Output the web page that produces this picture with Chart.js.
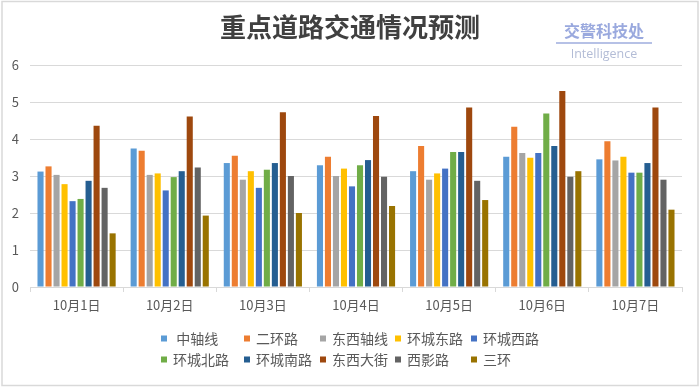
<!DOCTYPE html>
<html>
<head>
<meta charset="utf-8">
<script src="https://cdn.jsdelivr.net/npm/chart.js@4/dist/chart.umd.min.js"></script>
<style>
  html, body { margin: 0; padding: 0; background: #ffffff; }
  #wrap { position: relative; width: 700px; height: 387px; }
  canvas { display: block; }
  .wm1 { position: absolute; left: 556px; top: 19px; width: 96px; text-align: center;
         font-family: "Noto Sans CJK SC", sans-serif; font-size: 16px; font-weight: bold;
         color: #9aa9de; line-height: 22px; }
  .wmline { position: absolute; left: 556px; top: 42px; width: 96px; height: 2px; background: #b6c1e6; }
  .wm2 { position: absolute; left: 556px; top: 46px; width: 96px; text-align: center;
         font-family: "Open Sans", sans-serif; font-size: 12.5px; color: #b3bcd6; line-height: 16px; }
</style>
</head>
<body>
<div id="wrap">
  <canvas id="c" width="700" height="387"></canvas>
  <div class="wm1">交警科技处</div>
  <div class="wmline"></div>
  <div class="wm2">Intelligence</div>
</div>
<script>
const categories = ["10月1日", "10月2日", "10月3日", "10月4日", "10月5日", "10月6日", "10月7日"];
const seriesNames = [" 中轴线", "二环路", "东西轴线", "环城东路", "环城西路", "环城北路", "环城南路", "东西大街", "西影路", "三环"];
const seriesColors = ["#5B9BD5", "#ED7D31", "#A5A5A5", "#FFC000", "#4472C4", "#70AD47", "#255E91", "#9E480E", "#636363", "#997300"];
const zhongzhouxian = [3.12, 3.74, 3.35, 3.29, 3.13, 3.52, 3.45];
const erhuanlu      = [3.26, 3.68, 3.55, 3.52, 3.81, 4.33, 3.94];
const dongxizhouxian= [3.03, 3.03, 2.90, 3.00, 2.90, 3.62, 3.42];
const huanchengdong = [2.78, 3.07, 3.13, 3.20, 3.07, 3.49, 3.52];
const huanchengxi   = [2.32, 2.61, 2.68, 2.72, 3.20, 3.62, 3.09];
const huanchengbei  = [2.38, 2.97, 3.17, 3.29, 3.65, 4.69, 3.09];
const huanchengnan  = [2.87, 3.13, 3.35, 3.43, 3.65, 3.81, 3.35];
const dongxidajie   = [4.36, 4.61, 4.72, 4.62, 4.85, 5.30, 4.85];
const xiyinglu      = [2.68, 3.23, 3.00, 2.98, 2.87, 2.98, 2.90];
const sanhuan       = [1.45, 1.93, 2.00, 2.19, 2.35, 3.13, 2.09];
const yTicks = [0, 1, 2, 3, 4, 5, 6];

const seriesValues = [zhongzhouxian, erhuanlu, dongxizhouxian, huanchengdong, huanchengxi,
                      huanchengbei, huanchengnan, dongxidajie, xiyinglu, sanhuan];

const datasets = seriesNames.map((n, i) => ({
  label: n,
  data: seriesValues[i],
  backgroundColor: seriesColors[i],
  borderWidth: 0,
  categoryPercentage: 0.86,
  barPercentage: 0.76
}));

const CJK = '"Noto Sans CJK SC", "Microsoft YaHei", sans-serif';
const gridColor = '#d9d9d9';
const textColor = '#595959';

const frameAndLegend = {
  id: 'frameAndLegend',
  beforeDraw(chart) {
    const ctx = chart.ctx;
    ctx.save();
    ctx.fillStyle = '#ffffff';
    ctx.fillRect(0, 0, chart.width, chart.height);
    ctx.restore();
  },
  afterDraw(chart) {
    const ctx = chart.ctx;
    ctx.save();
    // outer frame
    ctx.strokeStyle = '#d9d9d9';
    ctx.lineWidth = 1.5;
    ctx.strokeRect(2, 1.5, chart.width - 4, chart.height - 3);
    // column-aligned legend (2 rows x 5 columns), centered on the page
    ctx.font = '14px ' + CJK;
    ctx.textBaseline = 'middle';
    ctx.textAlign = 'left';
    const cols = 5, box = 6, textOff = 12;
    const colOffsets = [0, 83, 159, 234, 310];
    const legendWidth = 380;
    const start = chart.width / 2 + 1 - legendWidth / 2;
    const items = chart.data.datasets.map(d => ({ text: d.label, color: d.backgroundColor }));
    const rowY = [338.5, 359.5];
    items.forEach((it, i) => {
      const r = Math.floor(i / cols), c = i % cols;
      const x = start + colOffsets[c], y = rowY[r];
      ctx.fillStyle = it.color;
      ctx.fillRect(x, y - box / 2, box, box);
      ctx.fillStyle = textColor;
      ctx.fillText(it.text, x + textOff, y + 0.5);
    });
    ctx.restore();
  }
};

new Chart(document.getElementById('c'), {
  type: 'bar',
  data: { labels: categories, datasets },
  options: {
    responsive: false,
    animation: false,
    layout: { padding: { left: 0, right: 0, top: 0, bottom: 70 } },
    plugins: {
      legend: { display: false },
      tooltip: { enabled: false },
      title: {
        display: true,
        text: '重点道路交通情况预测',
        color: '#404040',
        font: { family: CJK, size: 26, weight: 'bold', lineHeight: 1.2 },
        padding: { top: 12, bottom: 21.8 }
      }
    },
    scales: {
      x: {
        offset: true,
        grid: { display: true, offset: true, drawOnChartArea: false, drawTicks: true,
                tickLength: 5, color: gridColor },
        border: { display: true, color: gridColor, width: 1 },
        ticks: { color: textColor, font: { family: CJK, size: 13 }, padding: 5, maxRotation: 0 },
        afterFit(scale) { scale.height = 30; }
      },
      y: {
        min: 0, max: 6,
        afterBuildTicks(scale) { scale.ticks = yTicks.map(v => ({ value: v })); },
        grid: { color: gridColor, drawTicks: false },
        border: { display: false },
        ticks: { color: textColor, font: { family: CJK, size: 13 }, padding: 11 },
        afterFit(scale) { scale.width = 30; }
      },
      ySpacer: {
        position: 'right',
        display: true,
        grid: { display: false, drawTicks: false },
        border: { display: false },
        ticks: { display: false },
        afterFit(scale) { scale.width = 18; }
      }
    }
  },
  plugins: [frameAndLegend]
});
</script>
</body>
</html>
